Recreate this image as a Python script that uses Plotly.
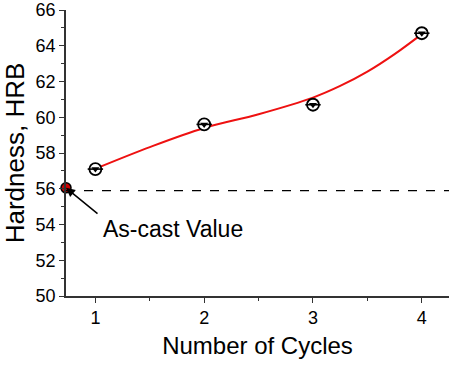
import plotly.graph_objects as go

# Data
cycles = [1, 2, 3, 4]
hardness = [57.1, 59.6, 60.7, 64.7]
fit_x = [1, 1.5, 2, 2.5, 3, 3.25, 3.5, 3.75, 4]
fit_y = [57.12, 58.33, 59.4, 60.17, 61.1, 61.75, 62.55, 63.53, 64.65]
as_cast_x = [0.73]
as_cast_value = [56.05]
as_cast_line = 55.9
x_range = [0.73, 4.25]
y_range = [50, 66]
x_ticks = [1, 2, 3, 4]
y_ticks = [50, 52, 54, 56, 58, 60, 62, 64, 66]

FONT = "Liberation Sans, Arial, sans-serif"

fig = go.Figure()

# fitted curve
fig.add_trace(go.Scatter(x=fit_x, y=fit_y, mode="lines",
                         line=dict(color="#ee1111", width=2, shape="spline", smoothing=1.0),
                         hoverinfo="skip", showlegend=False))

# half-filled circle markers: open circle + bottom triangle + center line
fig.add_trace(go.Scatter(x=cycles, y=hardness, mode="markers",
                         marker=dict(symbol="circle", size=12, color="white",
                                     line=dict(color="black", width=1.8)),
                         showlegend=False, cliponaxis=False))
fig.add_trace(go.Scatter(x=cycles, y=hardness, mode="markers",
                         marker=dict(symbol="triangle-down", size=7, color="black",
                                     line=dict(width=0)),
                         showlegend=False, cliponaxis=False))
fig.add_trace(go.Scatter(x=cycles, y=hardness, mode="markers",
                         marker=dict(symbol="line-ew", size=11,
                                     line=dict(color="black", width=1.6)),
                         showlegend=False, cliponaxis=False))

# as-cast point
fig.add_trace(go.Scatter(x=as_cast_x, y=as_cast_value, mode="markers",
                         marker=dict(symbol="circle", size=10, color="#cc0000",
                                     line=dict(color="black", width=1.5)),
                         showlegend=False, cliponaxis=False))

# dashed as-cast reference line
fig.add_shape(type="line", xref="paper", x0=0, x1=1, yref="y",
              y0=as_cast_line, y1=as_cast_line,
              line=dict(color="black", width=1.2, dash="dash"))

# arrow
fig.add_annotation(x=as_cast_x[0], y=as_cast_value[0], xref="x", yref="y",
                   text="", showarrow=True, ax=33, ay=27,
                   arrowhead=2, arrowsize=1.2, arrowwidth=1.5, arrowcolor="black")
# label
fig.add_annotation(x=1.05, y=53.75, xref="x", yref="y", text="As-cast Value",
                   showarrow=False, xanchor="left", yanchor="middle",
                   font=dict(family=FONT, size=23, color="black"))

fig.update_xaxes(range=x_range, tickvals=x_ticks, ticks="outside", ticklen=5,
                 tickwidth=1.2, tickcolor="#333", automargin=False,
                 showline=True, linecolor="#333", linewidth=1.5, showgrid=False,
                 zeroline=False, minor=dict(dtick=0.5, ticks="outside", ticklen=3,
                                            tickcolor="#333", showgrid=False),
                 tickfont=dict(family=FONT, size=18, color="black"),
                 title=dict(text="Number of Cycles", standoff=10,
                            font=dict(family=FONT, size=24, color="black")))
fig.update_yaxes(range=y_range, tickvals=y_ticks, ticks="outside", ticklen=5,
                 tickwidth=1.2, tickcolor="#333", automargin=False,
                 showline=True, linecolor="#333", linewidth=1.5, showgrid=False,
                 zeroline=False, minor=dict(dtick=1, ticks="outside", ticklen=3,
                                            tickcolor="#333", showgrid=False),
                 tickfont=dict(family=FONT, size=18, color="black"),
                 title=dict(text="Hardness, HRB", standoff=4,
                            font=dict(family=FONT, size=26, color="black")))

fig.update_layout(width=463, height=366, margin=dict(l=66, r=14, t=10, b=70),
                  paper_bgcolor="white", plot_bgcolor="white")

fig.write_html("out.html")
